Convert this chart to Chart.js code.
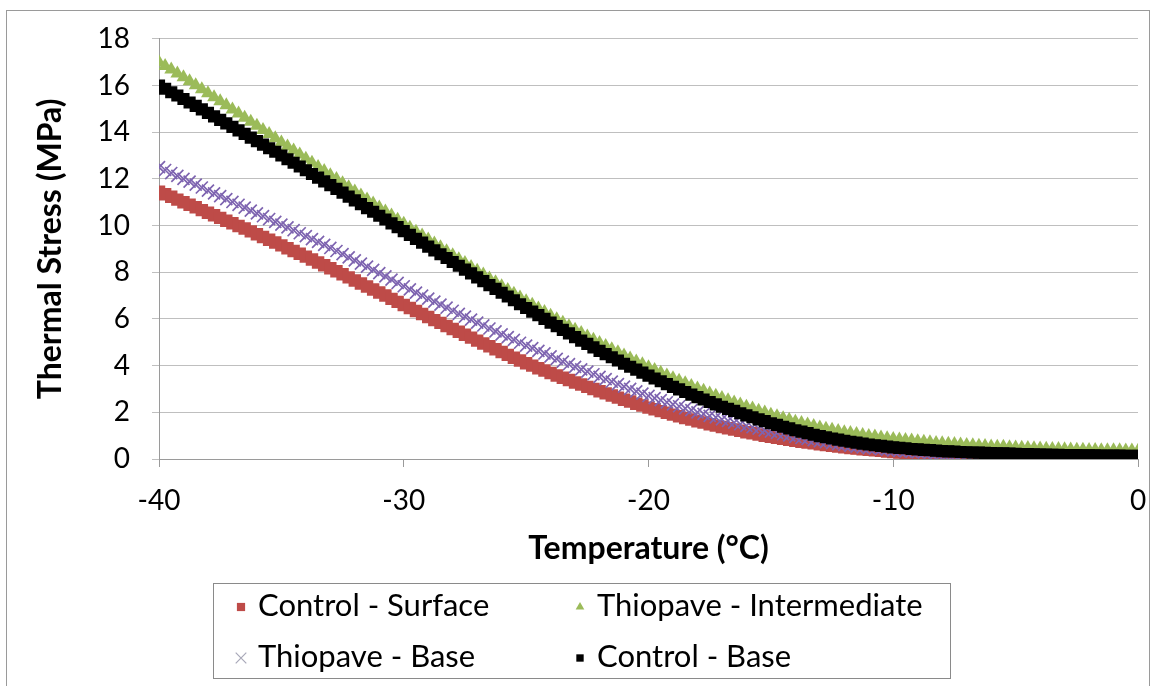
<!DOCTYPE html>
<html>
<head>
<meta charset="utf-8">
<script src="https://cdn.jsdelivr.net/npm/chart.js@4.4.1/dist/chart.umd.min.js"></script>
<style>
  html, body { margin: 0; padding: 0; background: #ffffff; }
  #wrap { position: relative; width: 1153px; height: 686px; }
  canvas { display: block; }
</style>
</head>
<body>
<div id="wrap"><canvas id="c" width="1153" height="686"></canvas></div>
<script>
// ---- data ----
const temperature = [
  -40,-39.75,-39.5,-39.25,-39,-38.75,-38.5,-38.25,-38,-37.75,-37.5,-37.25,-37,-36.75,-36.5,-36.25,
  -36,-35.75,-35.5,-35.25,-35,-34.75,-34.5,-34.25,-34,-33.75,-33.5,-33.25,-33,-32.75,-32.5,-32.25,
  -32,-31.75,-31.5,-31.25,-31,-30.75,-30.5,-30.25,-30,-29.75,-29.5,-29.25,-29,-28.75,-28.5,-28.25,
  -28,-27.75,-27.5,-27.25,-27,-26.75,-26.5,-26.25,-26,-25.75,-25.5,-25.25,-25,-24.75,-24.5,-24.25,
  -24,-23.75,-23.5,-23.25,-23,-22.75,-22.5,-22.25,-22,-21.75,-21.5,-21.25,-21,-20.75,-20.5,-20.25,
  -20,-19.75,-19.5,-19.25,-19,-18.75,-18.5,-18.25,-18,-17.75,-17.5,-17.25,-17,-16.75,-16.5,-16.25,
  -16,-15.75,-15.5,-15.25,-15,-14.75,-14.5,-14.25,-14,-13.75,-13.5,-13.25,-13,-12.75,-12.5,-12.25,
  -12,-11.75,-11.5,-11.25,-11,-10.75,-10.5,-10.25,-10,-9.75,-9.5,-9.25,-9,-8.75,-8.5,-8.25,
  -8,-7.75,-7.5,-7.25,-7,-6.75,-6.5,-6.25,-6,-5.75,-5.5,-5.25,-5,-4.75,-4.5,-4.25,
  -4,-3.75,-3.5,-3.25,-3,-2.75,-2.5,-2.25,-2,-1.75,-1.5,-1.25,-1,-0.75,-0.5,-0.25,
  0
];

const controlSurface = [
  11.45,11.34,11.23,11.11, 11.00,10.89,10.78,10.66, 10.55,10.44,10.33,10.21, 10.10,9.98,9.87,9.75,
  9.63,9.51,9.39,9.27, 9.15,9.03,8.91,8.79, 8.67,8.55,8.42,8.30, 8.17,8.04,7.91,7.78,
  7.65,7.52,7.39,7.26, 7.13,7.00,6.86,6.73, 6.60,6.47,6.34,6.21, 6.08,5.95,5.83,5.70,
  5.57,5.45,5.32,5.20, 5.07,4.95,4.83,4.70, 4.58,4.46,4.34,4.22, 4.10,4.00,3.89,3.79,
  3.68,3.58,3.48,3.38, 3.28,3.19,3.09,3.00, 2.90,2.81,2.72,2.63, 2.54,2.46,2.37,2.29,
  2.20,2.13,2.05,1.98, 1.90,1.83,1.76,1.69, 1.62,1.56,1.49,1.43, 1.37,1.32,1.26,1.21,
  1.15,1.10,1.05,1.00, 0.95,0.91,0.87,0.82, 0.78,0.74,0.71,0.67, 0.63,0.60,0.57,0.53,
  0.50,0.47,0.45,0.42, 0.39,0.37,0.35,0.32, 0.30,0.28,0.27,0.25, 0.23,0.22,0.20,0.19,
  0.17,0.16,0.15,0.14, 0.13,0.12,0.12,0.11, 0.10,0.10,0.09,0.09, 0.08,0.08,0.07,0.07,
  0.06,0.06,0.06,0.05, 0.05,0.05,0.05,0.04, 0.04,0.04,0.04,0.03, 0.03,0.03,0.03,0.02,
  0.02
];

const thiopaveIntermediate = [
  17.00,16.84,16.68,16.51, 16.35,16.18,16.01,15.84, 15.67,15.50,15.32,15.15, 14.97,14.80,14.62,14.45,
  14.27,14.09,13.92,13.74, 13.56,13.39,13.21,13.04, 12.86,12.69,12.51,12.34, 12.16,11.99,11.81,11.64,
  11.46,11.29,11.12,10.94, 10.77,10.60,10.43,10.25, 10.08,9.91,9.74,9.57, 9.40,9.23,9.07,8.90,
  8.73,8.56,8.40,8.23, 8.06,7.90,7.73,7.57, 7.40,7.24,7.08,6.92, 6.76,6.61,6.45,6.30,
  6.14,5.99,5.84,5.69, 5.54,5.40,5.25,5.11, 4.97,4.84,4.70,4.57, 4.43,4.31,4.18,4.06,
  3.93,3.81,3.70,3.58, 3.46,3.35,3.24,3.13, 3.02,2.92,2.81,2.71, 2.61,2.52,2.42,2.33,
  2.24,2.16,2.07,1.99, 1.90,1.83,1.75,1.68, 1.60,1.54,1.48,1.41, 1.35,1.30,1.25,1.20,
  1.15,1.11,1.07,1.03, 0.99,0.96,0.92,0.89, 0.86,0.84,0.81,0.79, 0.76,0.74,0.72,0.69,
  0.67,0.65,0.64,0.62, 0.60,0.59,0.57,0.56, 0.54,0.53,0.52,0.50, 0.49,0.48,0.47,0.46,
  0.45,0.44,0.43,0.43, 0.42,0.41,0.40,0.40, 0.39,0.39,0.38,0.38, 0.37,0.37,0.36,0.36,
  0.35
];

const thiopaveBase = [
  12.50,12.38,12.25,12.13, 12.00,11.88,11.75,11.63, 11.50,11.38,11.26,11.13, 11.01,10.89,10.77,10.64,
  10.52,10.40,10.28,10.16, 10.04,9.92,9.80,9.67, 9.55,9.42,9.30,9.17, 9.04,8.91,8.78,8.64,
  8.51,8.37,8.24,8.10, 7.96,7.82,7.68,7.54, 7.40,7.27,7.13,7.00, 6.87,6.74,6.61,6.48,
  6.35,6.22,6.10,5.97, 5.84,5.72,5.59,5.47, 5.34,5.22,5.10,4.98, 4.86,4.75,4.63,4.52,
  4.40,4.29,4.17,4.06, 3.95,3.84,3.74,3.63, 3.52,3.42,3.31,3.21, 3.10,3.00,2.90,2.80,
  2.70,2.61,2.52,2.43, 2.34,2.26,2.17,2.09, 2.00,1.93,1.85,1.78, 1.70,1.63,1.56,1.49,
  1.42,1.36,1.30,1.23, 1.17,1.12,1.06,1.01, 0.95,0.90,0.86,0.81, 0.76,0.72,0.68,0.64,
  0.60,0.57,0.53,0.50, 0.47,0.45,0.42,0.40, 0.37,0.35,0.33,0.31, 0.29,0.28,0.26,0.25,
  0.23,0.22,0.21,0.19, 0.18,0.17,0.17,0.16, 0.15,0.14,0.14,0.13, 0.12,0.12,0.11,0.11,
  0.10,0.10,0.10,0.09, 0.09,0.09,0.09,0.08, 0.08,0.08,0.08,0.07, 0.07,0.07,0.07,0.06,
  0.06
];

const controlBase = [
  16.00,15.86,15.71,15.57, 15.42,15.27,15.13,14.98, 14.83,14.68,14.53,14.38, 14.23,14.08,13.93,13.77,
  13.62,13.47,13.31,13.16, 13.00,12.84,12.69,12.53, 12.37,12.21,12.05,11.89, 11.73,11.57,11.41,11.24,
  11.08,10.92,10.75,10.59, 10.42,10.26,10.09,9.93, 9.76,9.60,9.43,9.27, 9.10,8.94,8.77,8.61,
  8.44,8.28,8.11,7.95, 7.78,7.62,7.45,7.29, 7.12,6.96,6.80,6.63, 6.47,6.31,6.16,6.00,
  5.84,5.69,5.53,5.38, 5.22,5.07,4.93,4.78, 4.63,4.49,4.36,4.22, 4.08,3.95,3.83,3.70,
  3.57,3.45,3.33,3.21, 3.09,2.98,2.87,2.76, 2.65,2.55,2.44,2.34, 2.24,2.15,2.06,1.96,
  1.87,1.79,1.70,1.62, 1.53,1.46,1.38,1.31, 1.23,1.17,1.11,1.04, 0.98,0.93,0.88,0.83,
  0.78,0.74,0.70,0.66, 0.62,0.59,0.56,0.53, 0.50,0.48,0.46,0.43, 0.41,0.39,0.38,0.36,
  0.34,0.33,0.32,0.30, 0.29,0.28,0.27,0.26, 0.25,0.24,0.24,0.23, 0.22,0.21,0.21,0.20,
  0.19,0.19,0.18,0.18, 0.17,0.17,0.17,0.16, 0.16,0.16,0.15,0.15, 0.15,0.15,0.14,0.14,
  0.14
];

const seriesLabels = ['Control - Surface', 'Thiopave - Intermediate', 'Thiopave - Base', 'Control - Base'];
const xTickValues = [-40, -30, -20, -10, 0];
const yTickValues = [0, 2, 4, 6, 8, 10, 12, 14, 16, 18];
const xTitle = 'Temperature (°C)';
const yTitle = 'Thermal Stress (MPa)';

// ---- build ----
function pts(ys) { return temperature.map((t, i) => ({ x: t, y: ys[i] })); }

const FONT = 'Lato, "Open Sans", sans-serif';

const datasets = [
  { label: seriesLabels[0], data: pts(controlSurface), pointStyle: 'rect', pointRadius: 8.8,
    backgroundColor: '#BE4B48', borderColor: '#BE4B48', borderWidth: 0, order: 4, legendRadius: 5.8 },
  { label: seriesLabels[1], data: pts(thiopaveIntermediate), pointStyle: 'triangle', pointRadius: 8,
    backgroundColor: '#9BBB59', borderColor: '#9BBB59', borderWidth: 0, order: 3, legendRadius: 5 },
  { label: seriesLabels[2], data: pts(thiopaveBase), pointStyle: 'crossRot', pointRadius: 8.5,
    backgroundColor: '#7E64B0', borderColor: '#7E64B0', borderWidth: 1.7, order: 2, legendRadius: 7.5, legendColor: '#A8A8B8', legendBorder: 1.2 },
  { label: seriesLabels[3], data: pts(controlBase), pointStyle: 'rect', pointRadius: 8.6,
    backgroundColor: '#000000', borderColor: '#000000', borderWidth: 0, order: 1, legendRadius: 5.2 }
];

const framePlugin = {
  id: 'frame',
  beforeDraw(chart) {
    const ctx = chart.ctx;
    ctx.save();
    ctx.fillStyle = '#ffffff';
    ctx.fillRect(0, 0, chart.width, chart.height);
    ctx.restore();
  },
  afterDraw(chart) {
    const ctx = chart.ctx;
    ctx.save();
    // outer chart border
    ctx.strokeStyle = '#9a9a9a';
    ctx.lineWidth = 1;
    ctx.strokeRect(6.5, 10.5, 1143, 700);
    // legend box
    ctx.strokeStyle = '#8a8a8a';
    ctx.strokeRect(213.5, 583.5, 737, 95);
    const cols = [{ m: 241, t: 258 }, { m: 580, t: 597 }];
    const rows = [606, 657];
    chart.data.datasets.forEach((ds, i) => {
      const c = cols[i % 2], r = rows[Math.floor(i / 2)];
      ctx.fillStyle = ds.legendColor || ds.backgroundColor;
      ctx.strokeStyle = ds.legendColor || ds.borderColor;
      ctx.lineWidth = ds.legendBorder || 0;
      Chart.helpers.drawPoint(ctx, { pointStyle: ds.pointStyle, radius: ds.legendRadius, rotation: 0,
        borderWidth: ds.legendBorder || 0 }, c.m, r + 1);
      ctx.fillStyle = '#000000';
      ctx.font = '31px ' + FONT;
      ctx.textAlign = 'left';
      ctx.textBaseline = 'middle';
      ctx.fillText(ds.label, c.t, r);
    });
    ctx.restore();
  }
};

new Chart(document.getElementById('c'), {
  type: 'scatter',
  data: { datasets },
  options: {
    responsive: false,
    devicePixelRatio: 1,
    animation: false,
    layout: { padding: { left: 0, top: 30, right: 15, bottom: 118 } },
    plugins: { legend: { display: false }, tooltip: { enabled: false } },
    elements: { point: { hoverRadius: 0 } },
    scales: {
      x: {
        type: 'linear', min: -40, max: 0,
        afterBuildTicks(scale) { scale.ticks = xTickValues.map(v => ({ value: v })); },
        afterFit(scale) { scale.height = 109; scale.paddingLeft = 0; scale.paddingRight = 0; },
        grid: { drawOnChartArea: false, drawTicks: true, tickLength: 8, color: '#9a9a9a' },
        border: { display: true, color: '#9a9a9a', width: 1 },
        ticks: { color: '#000000', font: { family: FONT, size: 28 }, padding: 17, maxRotation: 0 },
        title: { display: true, text: xTitle, color: '#000000', padding: { top: 0, bottom: 0 },
          font: { family: FONT, size: 32, weight: 'bold' } }
      },
      y: {
        type: 'linear', min: 0, max: 18,
        afterBuildTicks(scale) { scale.ticks = yTickValues.map(v => ({ value: v })); },
        afterFit(scale) { scale.width = 159; },
        grid: { drawOnChartArea: true, drawTicks: true, tickLength: 7, color: '#bfbfbf' },
        border: { display: true, color: '#9a9a9a', width: 1 },
        ticks: { color: '#000000', font: { family: FONT, size: 28 }, padding: 22 },
        title: { display: true, text: yTitle, color: '#000000', padding: { top: 31, bottom: 0 },
          font: { family: FONT, size: 32, weight: 'bold' } }
      }
    }
  },
  plugins: [framePlugin]
});
</script>
</body>
</html>
